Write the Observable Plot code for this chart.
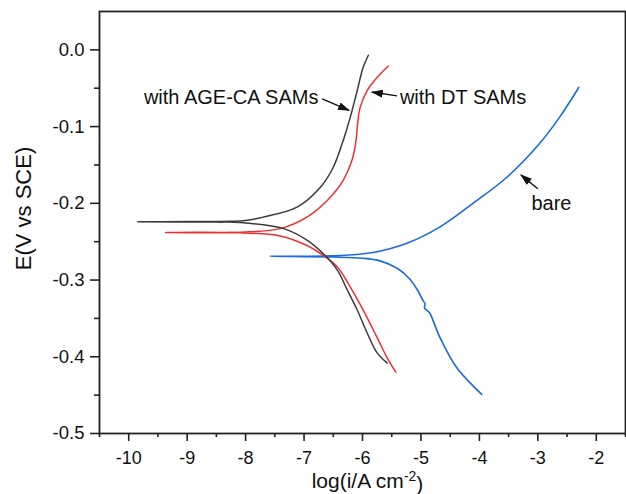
<!DOCTYPE html>
<html><head><meta charset="utf-8">
<script src="https://cdn.jsdelivr.net/npm/d3@7"></script>
<script src="https://cdn.jsdelivr.net/npm/@observablehq/plot@0.6"></script>
<style>html,body{margin:0;padding:0;background:#fff} svg{display:block}</style>
</head><body><div id="chart"></div>
<script>
// ---- tick values ----
const xTicks = [-10, -9, -8, -7, -6, -5, -4, -3, -2];
const xMinor = [-10.5, -9.5, -8.5, -7.5, -6.5, -5.5, -4.5, -3.5, -2.5, -1.5];
const yTicks = [0, -0.1, -0.2, -0.3, -0.4, -0.5];
const yMinor = [-0.05, -0.15, -0.25, -0.35, -0.45];
const xLabel = "log(i/A cm-2)";
const yLabel = "E(V vs SCE)";

// ---- series: with AGE-CA SAMs (black) ----
const ageAnodicX = [-9.85, -9.0, -8.26, -8.0, -7.70, -7.12, -6.72, -6.50, -6.33, -6.21, -6.09, -5.99, -5.90];
const ageAnodicY = [-0.224, -0.2238, -0.2235, -0.2225, -0.218, -0.205, -0.179, -0.153, -0.118, -0.088, -0.053, -0.023, -0.007];
const ageCathodicX = [-9.85, -8.5, -8.09, -7.35, -6.95, -6.64, -6.43, -6.26, -6.09, -5.92, -5.75, -5.58];
const ageCathodicY = [-0.224, -0.2245, -0.225, -0.233, -0.248, -0.268, -0.287, -0.313, -0.339, -0.369, -0.395, -0.408];

// ---- series: with DT SAMs (red) ----
const dtAnodicX = [-9.37, -8.26, -7.41, -6.95, -6.60, -6.33, -6.18, -6.11, -6.09, -6.04, -5.92, -5.75, -5.56];
const dtAnodicY = [-0.238, -0.238, -0.233, -0.218, -0.196, -0.170, -0.144, -0.118, -0.101, -0.075, -0.053, -0.036, -0.021];
const dtCathodicX = [-9.37, -8.09, -7.41, -6.95, -6.67, -6.43, -6.21, -5.99, -5.75, -5.58, -5.43];
const dtCathodicY = [-0.238, -0.2385, -0.2425, -0.255, -0.268, -0.283, -0.309, -0.339, -0.375, -0.401, -0.420];

// ---- series: bare (blue) ----
const bareAnodicX = [-7.58, -6.55, -5.82, -5.24, -4.68, -4.11, -3.53, -2.97, -2.63, -2.30];
const bareAnodicY = [-0.269, -0.2685, -0.264, -0.252, -0.231, -0.200, -0.166, -0.122, -0.088, -0.049];
const bareCathodicX = [-7.58, -6.50, -6.00, -5.70, -5.40, -5.20, -5.06, -4.97, -4.93, -4.94, -4.89, -4.85, -4.68, -4.39, -3.96];
const bareCathodicY = [-0.269, -0.270, -0.2715, -0.275, -0.285, -0.298, -0.313, -0.326, -0.331, -0.336, -0.340, -0.343, -0.374, -0.414, -0.449];

// ---- annotations ----
const annText = ["with AGE-CA SAMs", "with DT SAMs", "bare"];
const annX = [-9.74, -5.36, -3.11];
const annY = [-0.0624, -0.0624, -0.2003];
const arrowX1 = [-6.69, -5.41, -3.00];
const arrowY1 = [-0.064, -0.060, -0.181];
const arrowX2 = [-6.23, -5.84, -3.29];
const arrowY2 = [-0.079, -0.055, -0.163];

function branchPath(ax, ay, cx, cy) {
  const pts = [];
  for (let i = ax.length - 1; i >= 0; i--) pts.push({x: ax[i], y: ay[i]});
  for (let i = 1; i < cx.length; i++) pts.push({x: cx[i], y: cy[i]});
  return pts;
}
const agePts = branchPath(ageAnodicX, ageAnodicY, ageCathodicX, ageCathodicY);
const dtPts = branchPath(dtAnodicX, dtAnodicY, dtCathodicX, dtCathodicY);
const barePts = branchPath(bareAnodicX, bareAnodicY, bareCathodicX, bareCathodicY);
const anns = annText.map((t, i) => ({t, x: annX[i], y: annY[i]}));
const arrows = arrowX1.map((d, i) => ({x1: d, y1: arrowY1[i], x2: arrowX2[i], y2: arrowY2[i]}));

const axisColor = "#222";
const plot = Plot.plot({
  width: 626, height: 494,
  marginLeft: 99, marginRight: 1, marginTop: 11, marginBottom: 61,
  style: {fontFamily: "'Liberation Sans', Arial, sans-serif", background: "#fff", color: "#111"},
  x: {domain: [-10.5, -1.5]},
  y: {domain: [-0.5, 0.05]},
  marks: [
    Plot.line(barePts, {x: "x", y: "y", stroke: "#1a6ae0", strokeWidth: 1.6, curve: "catmull-rom"}),
    Plot.line(dtPts, {x: "x", y: "y", stroke: "#f0302e", strokeWidth: 1.5, curve: "catmull-rom"}),
    Plot.line(agePts, {x: "x", y: "y", stroke: "#3a3a3a", strokeWidth: 1.5, curve: "catmull-rom"}),
    Plot.axisX(xMinor, {anchor: "bottom", tickSize: 4, tickFormat: () => "", label: null, stroke: axisColor, strokeWidth: 1.6}),
    Plot.axisX(xTicks, {anchor: "bottom", tickSize: 8, tickPadding: 10, tickFormat: d => String(d), fontSize: 18, label: null, stroke: axisColor, strokeWidth: 1.6, fill: "#111"}),
    Plot.axisY(yMinor, {anchor: "left", tickSize: 5, tickFormat: () => "", label: null, stroke: axisColor, strokeWidth: 1.6}),
    Plot.axisY(yTicks, {anchor: "left", tickSize: 9, tickPadding: 6, tickFormat: d => d.toFixed(1), fontSize: 18.5, label: null, stroke: axisColor, strokeWidth: 1.6, fill: "#111"}),
    Plot.frame({stroke: axisColor, strokeWidth: 1.8}),
    Plot.link(arrows, {x1: "x1", y1: "y1", x2: "x2", y2: "y2", stroke: "#111", strokeWidth: 1.4}),
    Plot.text(anns, {x: "x", y: "y", text: "t", textAnchor: "start", fontSize: 20, fill: "#111"}),
    Plot.text([yLabel], {frameAnchor: "left", textAnchor: "middle", lineAnchor: "middle", dx: -76, dy: -14, rotate: -90, fontSize: 22, fill: "#111"}),
    Plot.text([xLabel], {frameAnchor: "bottom", textAnchor: "middle", lineAnchor: "middle", dx: 5, dy: 47.5, fontSize: 21, fill: "#111"})
  ]
});

// filled arrowheads
const svg = d3.select(plot);
const defs = svg.insert("defs", ":first-child");
defs.append("marker")
  .attr("id", "ahead").attr("markerUnits", "userSpaceOnUse")
  .attr("markerWidth", 12).attr("markerHeight", 8)
  .attr("refX", 11).attr("refY", 4).attr("orient", "auto")
  .append("path").attr("d", "M0,0 L12,4 L0,8 Z").attr("fill", "#111");
svg.selectAll('g[aria-label="link"] path').attr("marker-end", "url(#ahead)");

// superscript in x label
svg.selectAll("text").each(function() {
  if (this.textContent === xLabel) {
    const t = d3.select(this);
    t.text(null);
    t.append("tspan").text("log(i/A cm");
    t.append("tspan").attr("dy", "-0.45em").attr("font-size", "14px").text("-2");
    t.append("tspan").attr("dy", "0.45em").text(")");
  }
});

document.getElementById("chart").appendChild(plot);
</script>
</body></html>
